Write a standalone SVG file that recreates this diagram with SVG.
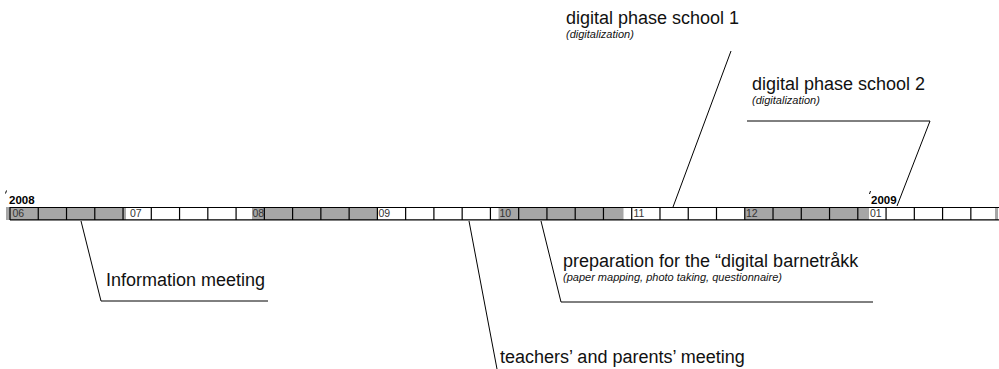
<svg xmlns="http://www.w3.org/2000/svg" width="999" height="369" viewBox="0 0 999 369">
  <style>
    .lbl { font-family: "Liberation Sans", Arial, sans-serif; font-size: 18px; fill: #111; }
    .sub { font-family: "Liberation Sans", Arial, sans-serif; font-size: 11px; font-style: italic; fill: #111; }
    .mon { font-family: "Liberation Sans", Arial, sans-serif; font-size: 10.5px; fill: #333; }
    .yr { font-family: "Liberation Sans", Arial, sans-serif; font-size: 11.5px; font-weight: bold; fill: #000; }
    .gray { fill: #a6a6a6; }
    .cell { fill: none; stroke: #000; stroke-width: 1.2; }
    .conn { fill: none; stroke: #000; stroke-width: 1; }
  </style>
  <g id="timeline">
    <rect class="gray" x="6" y="207" width="120" height="13"/>
    <rect class="gray" x="252" y="207" width="125.5" height="13"/>
    <rect class="gray" x="498.5" y="207" width="125" height="13"/>
    <rect class="gray" x="744.8" y="207" width="124.2" height="13"/>
    <rect class="gray" x="995" y="207" width="3" height="13"/>
    <path class="cell" d="M10 207.5 H999 M10 219.8 H999 M10 207 V220 M38.26 207 V220 M66.52 207 V220 M94.78 207 V220 M123.04 207 V220 M151.3 207 V220 M179.56 207 V220 M207.82 207 V220 M236.08 207 V220 M264.34 207 V220 M292.6 207 V220 M320.86 207 V220 M349.12 207 V220 M377.38 207 V220 M405.64 207 V220 M433.9 207 V220 M462.16 207 V220 M490.42 207 V220 M518.68 207 V220 M546.94 207 V220 M575.2 207 V220 M603.46 207 V220 M631.72 207 V220 M659.98 207 V220 M688.24 207 V220 M716.5 207 V220 M744.76 207 V220 M773.02 207 V220 M801.28 207 V220 M829.54 207 V220 M857.8 207 V220 M886.06 207 V220 M914.32 207 V220 M942.58 207 V220 M970.84 207 V220"/>
    <text class="mon" x="12.5" y="217">06</text>
    <text class="mon" x="130" y="217">07</text>
    <text class="mon" x="252.5" y="217">08</text>
    <text class="mon" x="378.5" y="217">09</text>
    <text class="mon" x="499.5" y="217">10</text>
    <text class="mon" x="633.5" y="217">11</text>
    <text class="mon" x="746" y="217">12</text>
    <text class="mon" x="870" y="217">01</text>
    <path class="conn" d="M6.5 190.5 L5.5 193.5 M870.5 191 L869.5 194"/>
    <text class="yr" x="9" y="204">2008</text>
    <text class="yr" x="871" y="204">2009</text>
  </g>
  <g id="connectors">
    <path class="conn" d="M81 221 L101 301 H268"/>
    <path class="conn" d="M469 221 L497 369"/>
    <path class="conn" d="M541 221 L561 302 H873"/>
    <path class="conn" d="M673 207 L731 51"/>
    <path class="conn" d="M897 206 L930 121 H747"/>
  </g>
  <g id="info-meeting">
    <text class="lbl" x="106" y="286">Information meeting</text>
  </g>
  <g id="teachers-meeting">
    <text class="lbl" x="500" y="363">teachers’ and parents’ meeting</text>
  </g>
  <g id="preparation">
    <text class="lbl" x="563" y="267">preparation for the “digital barnetråkk</text>
    <text class="sub" x="563" y="281">(paper mapping, photo taking, questionnaire)</text>
  </g>
  <g id="school1">
    <text class="lbl" x="566" y="24">digital phase school 1</text>
    <text class="sub" x="566" y="38">(digitalization)</text>
  </g>
  <g id="school2">
    <text class="lbl" x="752" y="90">digital phase school 2</text>
    <text class="sub" x="752" y="104">(digitalization)</text>
  </g>
</svg>
